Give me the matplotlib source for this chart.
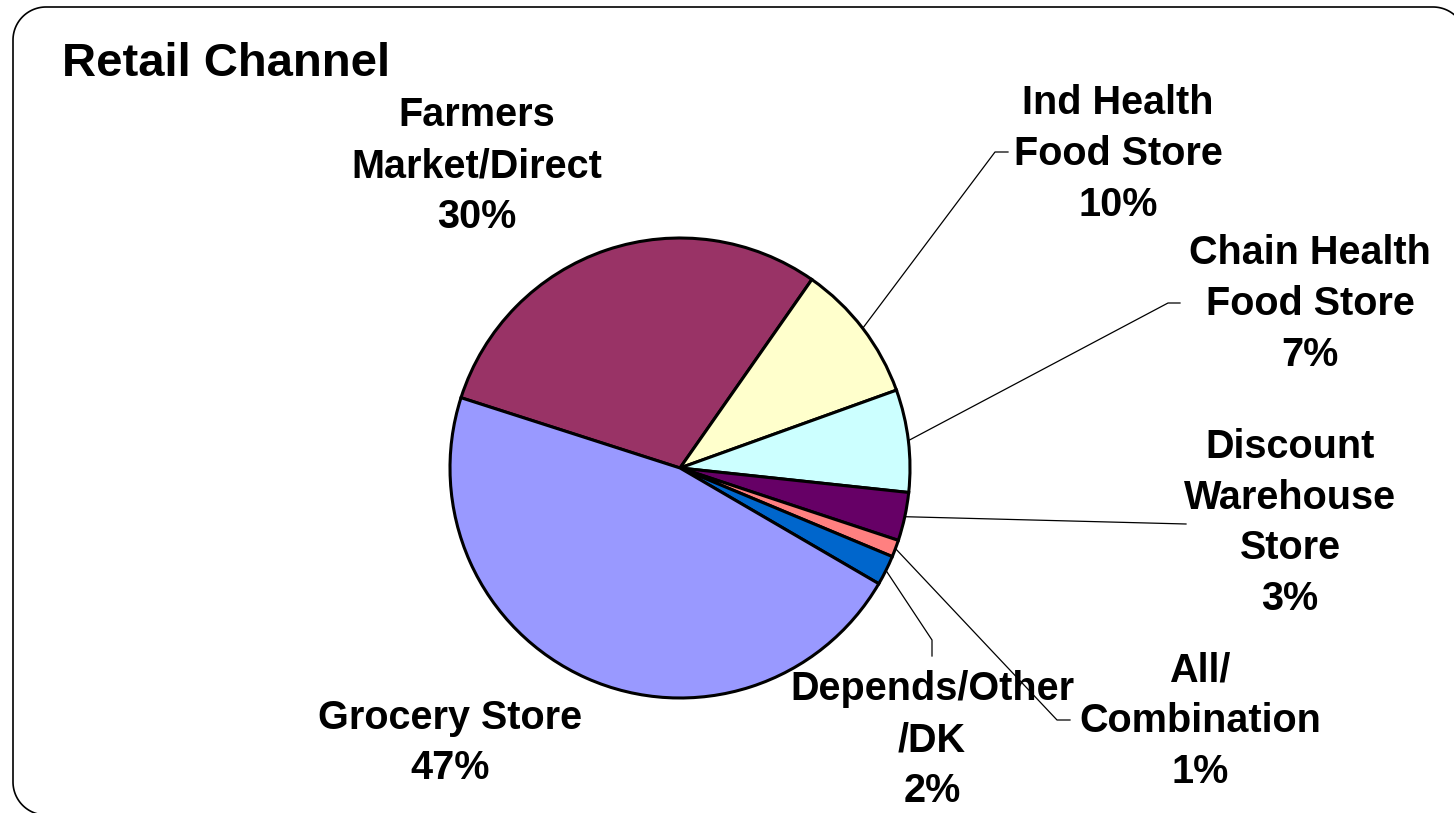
import numpy as np
import matplotlib
matplotlib.use("Agg")
import matplotlib.pyplot as plt
from matplotlib.lines import Line2D
from matplotlib.transforms import IdentityTransform

# data (clockwise order, starting with Farmers Market)
channels = ["Farmers\nMarket/Direct", "Ind Health\nFood Store", "Chain Health\nFood Store",
            "Discount\nWarehouse\nStore", "All/\nCombination", "Depends/Other\n/DK", "Grocery Store"]
shares = [29.8, 9.8, 7.2, 3.4, 1.2, 2.1, 46.6]
colors = ["#993366", "#FFFFCC", "#CCFFFF", "#660066", "#FF8080", "#0066CC", "#9999FF"]

W, H = 1454, 813
plt.rcParams['font.family'] = ['Liberation Sans', 'DejaVu Sans']

fig = plt.figure(figsize=(W / 100, H / 100), dpi=100)
ax = fig.add_axes([0, 0, 1, 1])

cx, cy, r = 680, H - 468, 230
wedges, _ = ax.pie(shares, colors=colors, startangle=162.2, counterclock=False,
                   center=(cx, cy), radius=r,
                   wedgeprops=dict(edgecolor="black", linewidth=2.2))
ax.set_xlim(0, W)
ax.set_ylim(0, H)
ax.set_aspect("equal")
ax.axis("off")

# label centre, then leader-line path (elbow points) in pixel coords (y from top)
label_pos = [(477, 166), (1118, 154), (1310, 304), (1290, 523), (1200, 721), (932, 740), (450, 743)]
leaders = [None,
           [(995, 152), (1008, 152)],
           [(1168, 303), (1180, 303)],
           [(1186, 524)],
           [(1057, 720), (1070, 720)],
           [(932, 640), (932, 656)],
           None]

total = sum(shares)
for w, name, val, pos, path in zip(wedges, channels, shares, label_pos, leaders):
    ax.text(pos[0], H - pos[1], f"{name}\n{val / total * 100:.0f}%", ha="center", va="center",
            fontsize=28.5, fontweight="bold", linespacing=1.43, color="black")
    if path:
        mid = np.deg2rad((w.theta1 + w.theta2) / 2)
        xs = [cx + r * np.cos(mid)] + [p[0] for p in path]
        ys = [cy + r * np.sin(mid)] + [H - p[1] for p in path]
        ax.plot(xs, ys, color="black", linewidth=0.9)

ax.text(62, H - 76, "Retail Channel", ha="left", va="baseline", fontsize=34, fontweight="bold")

# rounded frame (figure pixels): only left, top and the three corners that show
R = 33
left, top, right, bottom = 13, H - 7, 1466, -2
t = np.linspace(0, np.pi / 2, 30)
fx = np.concatenate([left + R - R * np.sin(t),   # bottom-left arc
                     left + R - R * np.cos(t),   # top-left arc
                     right - R + R * np.sin(t)]) # top-right arc
fy = np.concatenate([bottom + R - R * np.cos(t),
                     top - R + R * np.sin(t),
                     top - R + R * np.cos(t)])
fig.add_artist(Line2D(fx, fy, color="black", linewidth=1.2, transform=IdentityTransform()))

fig.savefig("out.png", dpi=100)
